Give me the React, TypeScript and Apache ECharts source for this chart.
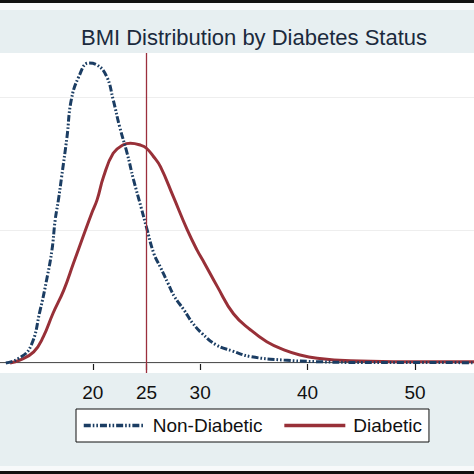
import React, { useEffect, useRef } from "react";
import * as echarts from "echarts";

const titleText = "BMI Distribution by Diabetes Status";
const xTicks = [20, 25, 30, 40, 50];
const refLineX = 25;
const gridValues = [0, 0.05, 0.1];

const nonDiabeticX = [11.9, 13.0, 14.2, 15.1, 15.7, 16.2, 16.5, 16.8, 17.1, 17.6, 18.0, 18.7, 19.6, 20.4, 21.3, 21.9, 22.5, 23.2, 23.8, 24.5, 25.0, 25.7, 26.3, 27.0, 27.6, 28.5, 29.3, 30.2, 31.5, 33.0, 34.7, 37.8, 40.9, 45.0, 50.0, 55.5];
const nonDiabeticY = [0, 0.0015, 0.0061, 0.0199, 0.0312, 0.0425, 0.0538, 0.0613, 0.07, 0.085, 0.0989, 0.1076, 0.1127, 0.112, 0.1076, 0.0989, 0.0888, 0.0788, 0.0688, 0.0585, 0.051, 0.041, 0.036, 0.03, 0.025, 0.0199, 0.015, 0.011, 0.0068, 0.0045, 0.0024, 0.0011, 0.0005, 0.0002, 0.0002, 0.0001];

const diabeticX = [12.3, 13.2, 14.5, 15.4, 16.3, 17.3, 18.2, 19.1, 19.9, 20.4, 21.0, 21.9, 22.85, 23.5, 24.5, 25.0, 25.65, 26.3, 27.5, 28.8, 29.7, 30.4, 31.6, 33.1, 34.7, 36.2, 37.8, 39.3, 40.9, 44.0, 48.0, 55.5];
const diabeticY = [0, 0.0011, 0.0042, 0.0099, 0.0187, 0.0274, 0.0375, 0.0475, 0.0563, 0.0613, 0.07, 0.0788, 0.082, 0.0826, 0.0818, 0.0807, 0.0776, 0.0738, 0.0625, 0.05, 0.0425, 0.0375, 0.0287, 0.0185, 0.0124, 0.008, 0.0049, 0.003, 0.0018, 0.0008, 0.0005, 0.0005];

const seriesNames = ["Non-Diabetic", "Diabetic"];

const NAVY = "#1b3d63";
const MAROON = "#983038";
const FONT = "'Liberation Sans', Arial, sans-serif";

export default function App() {
  const ref = useRef<HTMLDivElement>(null);
  useEffect(() => {
    document.body.style.margin = "0";
    if (!ref.current) return;
    const chart = echarts.init(ref.current, undefined, { renderer: "svg" });
    const pair = (xs: number[], ys: number[]) => xs.map((x, i) => [x, ys[i]]);
    chart.setOption({
      animation: false,
      backgroundColor: "#e7eff1",
      title: {
        text: titleText,
        left: 76,
        top: 21,
        textStyle: { fontFamily: FONT, fontSize: 22, fontWeight: "normal", color: "#1b2a3d" },
      },
      graphic: [
        { type: "rect", shape: { x: 0, y: 0, width: 474, height: 3 }, style: { fill: "#111" } },
        { type: "rect", shape: { x: 0, y: 3, width: 474, height: 7 }, style: { fill: "#f7f9fa" } },
        { type: "rect", shape: { x: 0, y: 466, width: 474, height: 5 }, style: { fill: "#f7f9fa" } },
        { type: "rect", shape: { x: 0, y: 471, width: 474, height: 3 }, style: { fill: "#111" } },
      ],
      grid: {
        left: 0,
        right: 0,
        top: 53,
        bottom: 101,
        show: true,
        backgroundColor: "#ffffff",
        borderWidth: 0,
      },
      legend: {
        data: seriesNames,
        left: 76,
        top: 409,
        orient: "horizontal",
        backgroundColor: "#ffffff",
        borderColor: "#111",
        borderWidth: 1,
        borderRadius: 0,
        padding: [7, 7, 7, 6],
        itemGap: 20,
        itemWidth: 61,
        itemHeight: 19,
        textStyle: { fontFamily: FONT, fontSize: 19, color: "#111", padding: [0, 0, 0, 3] },
        lineStyle: { width: 3.5 },
        itemStyle: { opacity: 0 },
      },
      xAxis: {
        type: "value",
        min: 11.36,
        max: 55.5,
        splitLine: { show: false },
        axisLine: { show: true, lineStyle: { color: "#1a1a1a", width: 1.5 } },
        axisTick: { show: true, customValues: xTicks, length: 7, lineStyle: { color: "#1a1a1a", width: 1.2 } },
        axisLabel: {
          customValues: xTicks,
          margin: 10,
          fontFamily: FONT,
          fontSize: 19,
          color: "#111",
        },
      },
      yAxis: {
        type: "value",
        min: -0.00376,
        max: 0.1165,
        show: false,
        splitLine: { show: false },
      },
      series: [
        {
          name: seriesNames[0],
          type: "line",
          data: pair(nonDiabeticX, nonDiabeticY),
          smooth: 0.45,
          symbol: "none",
          z: 3,
          lineStyle: { color: NAVY, width: 3, type: [7, 2, 1.6, 2, 1.6, 2] },
          itemStyle: { color: NAVY },
          markLine: {
            silent: true,
            symbol: "none",
            label: { show: false },
            lineStyle: { color: "#eeeeee", width: 1, type: "solid" },
            data: gridValues.map((v) => ({ yAxis: v })),
            z: 1,
          },
        },
        {
          name: seriesNames[1],
          type: "line",
          data: pair(diabeticX, diabeticY),
          smooth: 0.45,
          symbol: "none",
          z: 2,
          lineStyle: { color: MAROON, width: 3, type: "solid" },
          itemStyle: { color: MAROON },
          markLine: {
            silent: true,
            symbol: "none",
            label: { show: false },
            lineStyle: { color: "#9b2f3d", width: 1.3, type: "solid" },
            data: [{ xAxis: refLineX }],
          },
        },
      ],
    });
    return () => chart.dispose();
  }, []);
  return <div ref={ref} style={{ width: 474, height: 474 }} />;
}
